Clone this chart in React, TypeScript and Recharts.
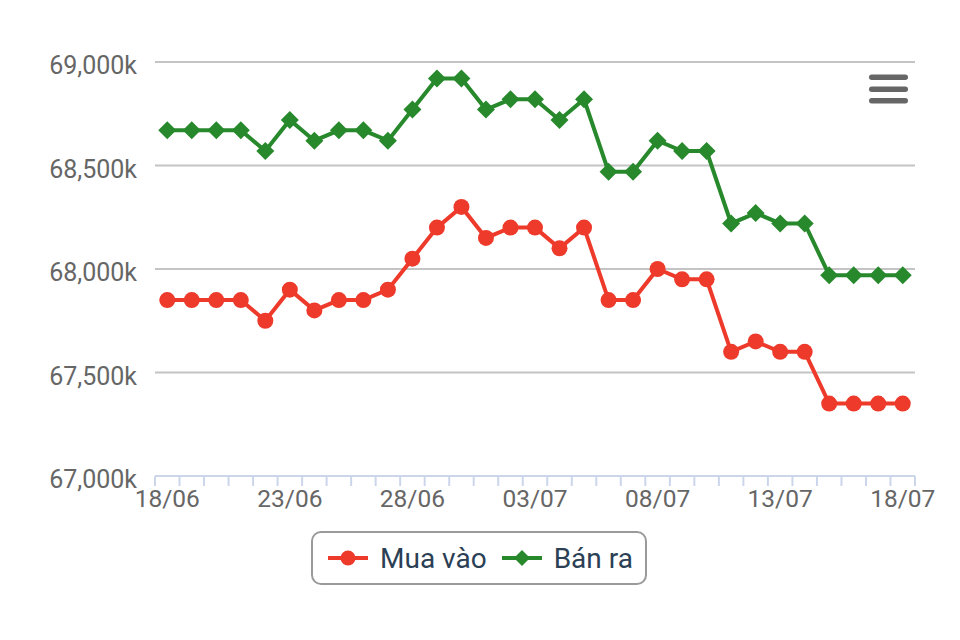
import { LineChart, Line, XAxis, YAxis, CartesianGrid } from 'recharts'

const dates = [
  '18/06', '19/06', '20/06', '21/06', '22/06', '23/06', '24/06', '25/06', '26/06', '27/06',
  '28/06', '29/06', '30/06', '01/07', '02/07', '03/07', '04/07', '05/07', '06/07', '07/07',
  '08/07', '09/07', '10/07', '11/07', '12/07', '13/07', '14/07', '15/07', '16/07', '17/07', '18/07',
]

// giá mua vào (nghìn đồng)
const muaVao = [
  67850, 67850, 67850, 67850, 67750, 67900, 67800, 67850, 67850, 67900,
  68050, 68200, 68300, 68150, 68200, 68200, 68100, 68200, 67850, 67850,
  68000, 67950, 67950, 67600, 67650, 67600, 67600, 67350, 67350, 67350, 67350,
]

// giá bán ra
const banRa = [
  68670, 68670, 68670, 68670, 68570, 68720, 68620, 68670, 68670, 68620,
  68770, 68920, 68920, 68770, 68820, 68820, 68720, 68820, 68470, 68470,
  68620, 68570, 68570, 68220, 68270, 68220, 68220, 67970, 67970, 67970, 67970,
]

const yTicks = [67000, 67500, 68000, 68500, 69000]
const labelEvery = 5

const RED = '#ee3a2b'
const GREEN = '#27892c'
const AXIS = '#ccd6eb'
const FONT = 'Roboto, "Noto Sans", sans-serif'

const chartData = dates.map((date, i) => ({ date, muaVao: muaVao[i], banRa: banRa[i] }))

function XTick(props: any) {
  const { x, y, payload, index } = props
  const half = payload?.offset || 12.26
  return (
    <g>
      <line x1={x - half} x2={x - half} y1={y} y2={y + 10} stroke={AXIS} strokeWidth={2} />
      {index === dates.length - 1 && (
        <line x1={x + half} x2={x + half} y1={y} y2={y + 10} stroke={AXIS} strokeWidth={2} />
      )}
      {index % labelEvery === 0 && (
        <text x={x} y={y + 31} textAnchor="middle" fill="#666" fontSize={24.5} fontFamily={FONT}>
          {payload.value}
        </text>
      )}
    </g>
  )
}

function YTick(props: any) {
  const { x, y, payload } = props
  return (
    <text x={x} y={y + 12} textAnchor="end" fill="#666" fontSize={25} fontFamily={FONT}>
      {Number(payload.value).toLocaleString('en-US')}k
    </text>
  )
}

const redDot = (p: any) => <circle key={`r-${p.index}`} cx={p.cx} cy={p.cy} r={8} fill={RED} />

const greenDot = (p: any) => {
  const s = 9
  return (
    <polygon
      key={`g-${p.index}`}
      points={`${p.cx},${p.cy - s} ${p.cx + s},${p.cy} ${p.cx},${p.cy + s} ${p.cx - s},${p.cy}`}
      fill={GREEN}
    />
  )
}

function LegendItem({ color, label, diamond }: { color: string; label: string; diamond?: boolean }) {
  return (
    <div style={{ display: 'flex', alignItems: 'center' }}>
      <svg width={40} height={20} style={{ marginRight: 12 }}>
        <line x1={0} x2={40} y1={10} y2={10} stroke={color} strokeWidth={4} />
        {diamond ? (
          <polygon points="20,2 28,10 20,18 12,10" fill={color} />
        ) : (
          <circle cx={20} cy={10} r={7.5} fill={color} />
        )}
      </svg>
      <span style={{ fontSize: 28, color: '#2b3f55', fontFamily: FONT }}>{label}</span>
    </div>
  )
}

export default function App() {
  return (
    <div style={{ position: 'absolute', left: 0, top: 0, width: 960, height: 640, background: '#fff' }}>
      <LineChart width={960} height={640} data={chartData} margin={{ top: 62, right: 45, left: 0, bottom: 124 }}>
        <CartesianGrid vertical={false} stroke="#c4c4c4" strokeWidth={2} />
        <XAxis
          dataKey="date"
          scale="band"
          interval={0}
          height={40}
          tickSize={0}
          tickMargin={0}
          tickLine={false}
          axisLine={{ stroke: AXIS, strokeWidth: 2 }}
          tick={<XTick />}
        />
        <YAxis
          domain={[67000, 69000]}
          ticks={yTicks}
          interval={0}
          width={155}
          tickSize={0}
          tickMargin={18}
          axisLine={false}
          tickLine={false}
          tick={<YTick />}
        />
        <Line
          dataKey="muaVao"
          name="Mua vào"
          stroke={RED}
          strokeWidth={4}
          dot={redDot}
          activeDot={false}
          isAnimationActive={false}
        />
        <Line
          dataKey="banRa"
          name="Bán ra"
          stroke={GREEN}
          strokeWidth={4}
          dot={greenDot}
          activeDot={false}
          isAnimationActive={false}
        />
      </LineChart>

      {/* legend box */}
      <div
        style={{
          position: 'absolute',
          left: 311,
          top: 531,
          width: 336,
          height: 54,
          boxSizing: 'border-box',
          border: '2px solid #9a9a9a',
          borderRadius: 10,
          display: 'flex',
          alignItems: 'center',
          paddingLeft: 15,
          gap: 15,
        }}
      >
        <LegendItem color={RED} label="Mua vào" />
        <LegendItem color={GREEN} label="Bán ra" diamond />
      </div>

      {/* menu icon */}
      <svg width={40} height={34} style={{ position: 'absolute', left: 868, top: 73 }}>
        <rect x={1} y={1.5} width={39} height={5.5} rx={2.75} fill="#666" />
        <rect x={1} y={13.5} width={39} height={5.5} rx={2.75} fill="#666" />
        <rect x={1} y={25} width={39} height={5.5} rx={2.75} fill="#666" />
      </svg>
    </div>
  )
}
